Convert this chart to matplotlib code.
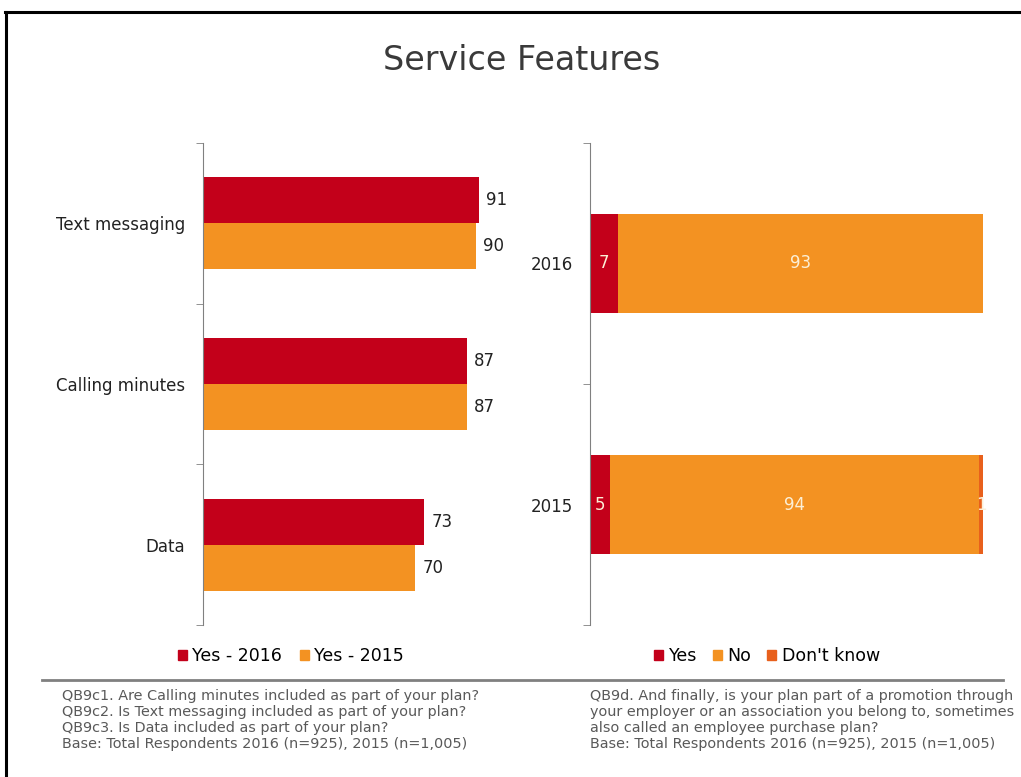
import matplotlib.pyplot as plt
from matplotlib.patches import Patch
from matplotlib.lines import Line2D
import numpy as np

# service features, % yes
features = ['Data', 'Calling minutes', 'Text messaging']
yes_2016 = [73, 87, 91]
yes_2015 = [70, 87, 90]

# employer / association promotion plan
years = ['2015', '2016']
promo_yes = [5, 7]
promo_no = [94, 93]
promo_dk = [1, 0]

RED = '#C3001A'
ORANGE = '#F39222'
DK = '#E8601C'
GREY_TXT = '#595959'

plt.rcParams['font.family'] = ['DejaVu Sans']

fig = plt.figure(figsize=(10.21, 7.77), dpi=100)
fig.patch.set_facecolor('white')

# frame lines (top and left)
fig.add_artist(Line2D([5/1021, 1], [1-12/777, 1-12/777], color='black', lw=2.2))
fig.add_artist(Line2D([6/1021, 6/1021], [0, 1-12/777], color='black', lw=2.2))

fig.text(0.511, 1-60/777, 'Service Features', ha='center', va='center',
         fontsize=24, color='#3A3A3A')

# --- left chart ---
ax1 = fig.add_axes([203/1021, 1-625/777, 303/1021, 482/777])
y = np.arange(len(features))
h = 0.286
b1 = ax1.barh(y + h/2, yes_2016, height=h, color=RED, label='Yes - 2016')
b2 = ax1.barh(y - h/2, yes_2015, height=h, color=ORANGE, label='Yes - 2015')
for bars, vals in ((b1, yes_2016), (b2, yes_2015)):
    for r, v in zip(bars, vals):
        ax1.text(v + 2.5, r.get_y() + r.get_height()/2, str(v),
                 va='center', ha='left', fontsize=12, color='#222222')
ax1.set_xlim(0, 100)
ax1.set_ylim(-0.5, len(features) - 0.5)
ax1.set_yticks(y)
ax1.set_yticklabels(features, fontsize=12, color='#222222')
ax1.set_yticks(np.arange(-0.5, len(features)), minor=True)
ax1.tick_params(axis='y', which='major', length=0, pad=13)
ax1.tick_params(axis='y', which='minor', length=5, color='#808080')
ax1.set_xticks([])
for s in ('top', 'right', 'bottom'):
    ax1.spines[s].set_visible(False)
ax1.spines['left'].set_color('#808080')
ax1.legend(handles=[Patch(color=RED, label='Yes - 2016'), Patch(color=ORANGE, label='Yes - 2015')],
           loc='center', bbox_to_anchor=(0.29, -0.065), ncol=2, frameon=False,
           fontsize=12.5, handlelength=0.55, handleheight=0.55, handletextpad=0.3,
           columnspacing=1.0)

# --- right chart ---
ax2 = fig.add_axes([590/1021, 1-625/777, 393/1021, 482/777])
yy = np.arange(len(years))
hb = 0.407
left = np.zeros(len(years))
for vals, col in ((promo_yes, RED), (promo_no, ORANGE), (promo_dk, DK)):
    bars = ax2.barh(yy, vals, left=left, height=hb, color=col)
    for r, v, l in zip(bars, vals, left):
        if v > 0:
            ax2.text(l + v/2, r.get_y() + r.get_height()/2, str(v),
                     ha='center', va='center', fontsize=12, color='#FCEFD6')
    left = left + np.array(vals)
ax2.set_xlim(0, 100)
ax2.set_ylim(-0.5, len(years) - 0.5)
ax2.set_yticks(yy)
ax2.set_yticklabels(years, fontsize=12, color='#222222')
ax2.set_yticks(np.arange(-0.5, len(years)), minor=True)
ax2.tick_params(axis='y', which='major', length=0, pad=12)
ax2.tick_params(axis='y', which='minor', length=5, color='#808080')
ax2.set_xticks([])
for s in ('top', 'right', 'bottom'):
    ax2.spines[s].set_visible(False)
ax2.spines['left'].set_color('#808080')
ax2.legend(handles=[Patch(color=RED, label='Yes'), Patch(color=ORANGE, label='No'),
                    Patch(color=DK, label="Don't know")],
           loc='center', bbox_to_anchor=(0.45, -0.065), ncol=3, frameon=False,
           fontsize=12.5, handlelength=0.55, handleheight=0.55, handletextpad=0.3,
           columnspacing=0.9)

# separator and footnotes
fig.add_artist(Line2D([42/1021, 1003/1021], [1-680/777, 1-680/777], color='#808080', lw=2))
notes_left = ("QB9c1. Are Calling minutes included as part of your plan?\n"
              "QB9c2. Is Text messaging included as part of your plan?\n"
              "QB9c3. Is Data included as part of your plan?\n"
              "Base: Total Respondents 2016 (n=925), 2015 (n=1,005)")
notes_right = ("QB9d. And finally, is your plan part of a promotion through\n"
               "your employer or an association you belong to, sometimes\n"
               "also called an employee purchase plan?\n"
               "Base: Total Respondents 2016 (n=925), 2015 (n=1,005)")
fig.text(62/1021, 1-689/777, notes_left, ha='left', va='top', fontsize=10.4,
         color=GREY_TXT, linespacing=1.17)
fig.text(590/1021, 1-689/777, notes_right, ha='left', va='top', fontsize=10.4,
         color=GREY_TXT, linespacing=1.17)

fig.savefig('out.png', dpi=100)
